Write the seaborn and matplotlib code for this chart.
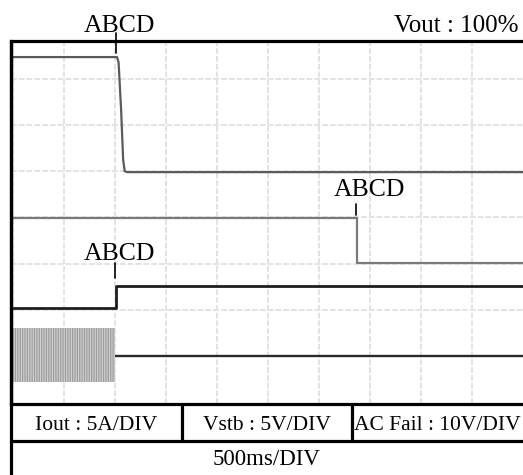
import numpy as np
import pandas as pd
import seaborn as sns
import matplotlib.pyplot as plt
from matplotlib.lines import Line2D

# Time axis in divisions (500 ms/DIV), vertical axis in scope divisions
vout_t = [0.0, 2.04, 2.07, 2.12, 2.16, 2.19, 2.24, 10.0]
vout_v = [7.47, 7.47, 7.36, 6.33, 5.25, 5.00, 4.98, 4.98]

vstb_t = [0.0, 6.74, 6.74, 10.0]
vstb_v = [3.99, 3.99, 3.01, 3.01]

acfail_t = [0.0, 2.02, 2.02, 10.0]
acfail_v = [2.04, 2.04, 2.52, 2.52]

acin_t = [2.0, 10.0]
acin_v = [1.0, 1.0]
# envelope of the AC line before dropout
acin_band_t = [0.0, 2.0]
acin_band_hi = [1.61, 1.61]
acin_band_lo = [0.44, 0.44]

# event markers: (label x, label y, tick x, tick y0, tick y1)
marker_text = ["ABCD", "ABCD", "ABCD"]
marker_lx = [2.08, 6.99, 2.08]
marker_ly = [8.01, 4.46, 3.08]
marker_tx = [2.02, 6.73, 2.0]
marker_ty0 = [7.99, 4.30, 3.01]
marker_ty1 = [7.56, 4.05, 2.69]

channel_labels = ["Iout : 5A/DIV", "Vstb : 5V/DIV", "AC Fail : 10V/DIV"]
timebase_label = "500ms/DIV"
title_label = "Vout : 100%"

sns.set_theme(style="white")
plt.rcParams["font.family"] = ["Liberation Serif", "DejaVu Serif"]
plt.rcParams["hatch.linewidth"] = 0.9

W, H = 523, 475
fig = plt.figure(figsize=(W / 100, H / 100), dpi=100)
fig.patch.set_facecolor("white")

# plot frame in pixel terms of the canvas
left_px, right_px, top_px, bottom_px = 11, 523, 41, 404
ax = fig.add_axes([left_px / W, 1 - bottom_px / H,
                   (right_px - left_px) / W, (bottom_px - top_px) / H])
ax.set_xlim(-0.039, 10.0)
ax.set_ylim(-0.039, 7.818)

# graticule
grid_kw = dict(color="#e3e3e3", lw=1.4, ls=(0, (3, 1)), zorder=0)
for gx in range(0, 10):
    ax.axvline(gx, **grid_kw)
for gy in range(1, 8):
    ax.axhline(gy, **grid_kw)

def trace(t, v, color, lw):
    df = pd.DataFrame({"t": t, "v": v})
    sns.lineplot(data=df, x="t", y="v", ax=ax, color=color, lw=lw,
                 estimator=None, sort=False, legend=False)

trace(vout_t, vout_v, "#5a5a5a", 1.6)
trace(vstb_t, vstb_v, "#7a7a7a", 1.6)
trace(acfail_t, acfail_v, "#1e1e1e", 2.0)
trace(acin_t, acin_v, "#2a2a2a", 1.7)

ax.fill_between(acin_band_t, acin_band_lo, acin_band_hi,
                facecolor="#d2d2d2", edgecolor="#9c9c9c", hatch="|||||||",
                lw=0, zorder=2)

for txt, lx, ly, tx, ty0, ty1 in zip(marker_text, marker_lx, marker_ly,
                                     marker_tx, marker_ty0, marker_ty1):
    ax.text(lx, ly, txt, ha="center", va="baseline", fontsize=18.5,
            color="black", clip_on=False)
    ax.plot([tx, tx], [ty0, ty1], color="black", lw=1.2, clip_on=False)

ax.set_xlabel("")
ax.set_ylabel("")
ax.set_xticks([])
ax.set_yticks([])
for side in ["left", "top", "bottom"]:
    ax.spines[side].set_visible(True)
    ax.spines[side].set_color("black")
    ax.spines[side].set_linewidth(2.3)
ax.spines["right"].set_visible(False)

fig.text(518 / W, 1 - 32 / H, title_label, ha="right", va="baseline",
         fontsize=18, color="black")

# channel scale table under the plot
def fig_line(x0, y0, x1, y1):
    fig.add_artist(Line2D([x0 / W, x1 / W], [1 - y0 / H, 1 - y1 / H],
                          color="black", lw=2.3))

fig_line(left_px, 41, left_px, H)
fig_line(left_px, 441, W, 441)
fig_line(181.5, 404, 181.5, 441)
fig_line(352, 404, 352, 441)

cell_cx = [96, 266.5, 437.5]
for cx, lab in zip(cell_cx, channel_labels):
    fig.text(cx / W, 1 - 430 / H, lab, ha="center", va="baseline",
             fontsize=15.5, color="black")
fig.text(267 / W, 1 - 465 / H, timebase_label, ha="center", va="baseline",
         fontsize=16.5, color="black")

fig.savefig("out.png", dpi=100, facecolor="white")
